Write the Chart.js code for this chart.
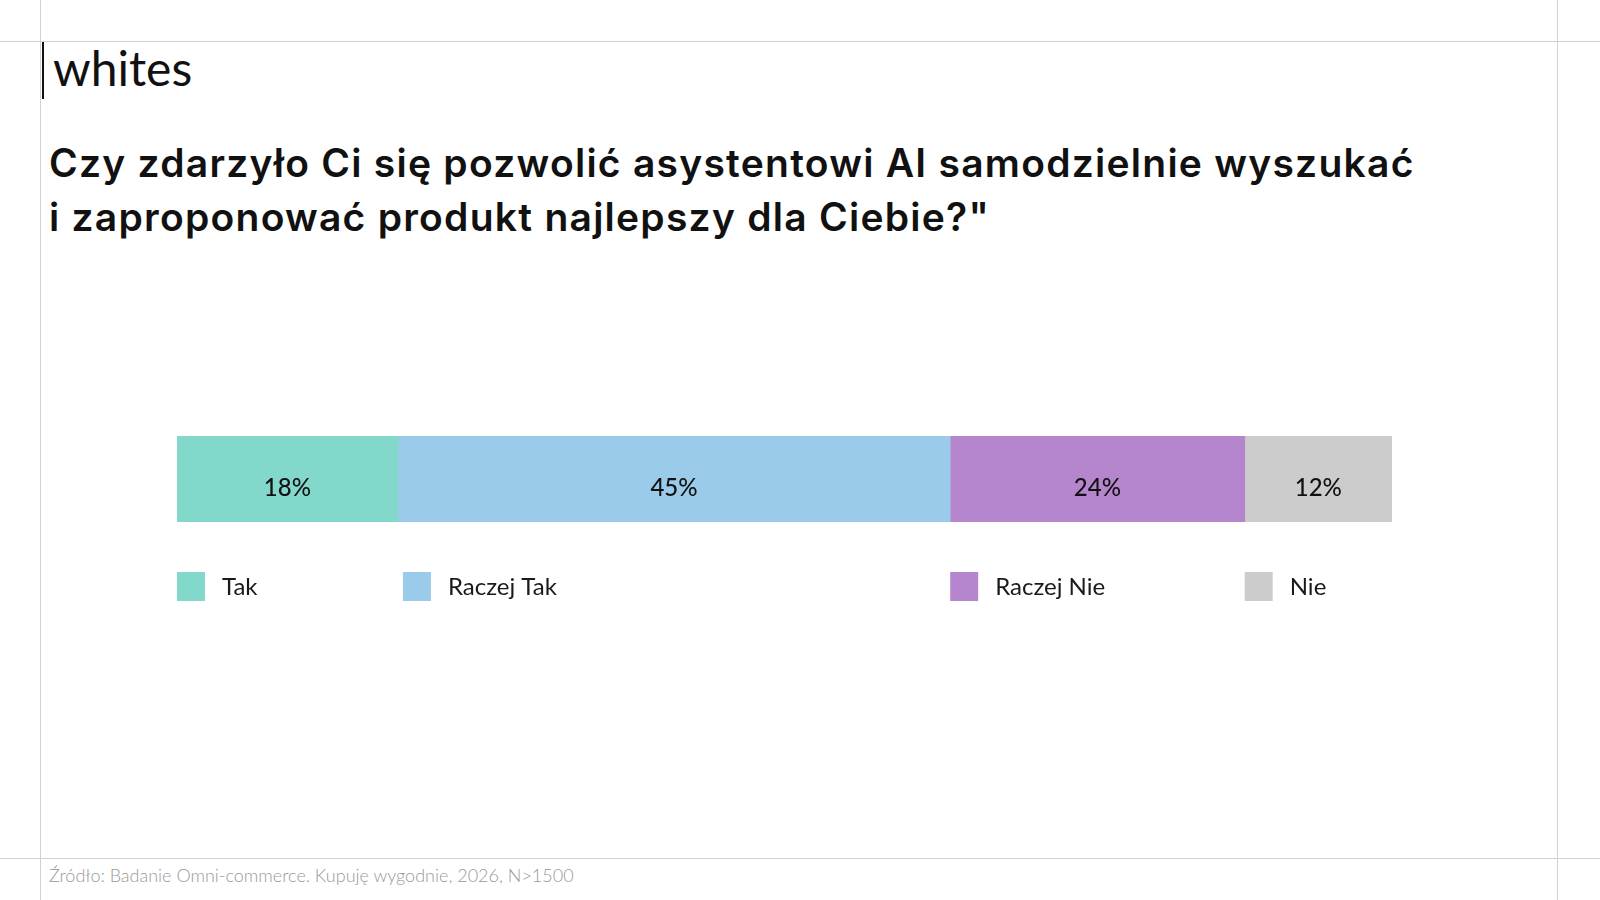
<!DOCTYPE html>
<html>
<head>
<meta charset="utf-8">
<script src="https://cdn.jsdelivr.net/npm/chart.js@4"></script>
<style>
  body { margin: 0; width: 1600px; height: 900px; background: #fff; position: relative; overflow: hidden; font-family: Lato, sans-serif; }
  .vline { position: absolute; top: 0; width: 1px; height: 900px; background: #d2d2d2; }
  .hline { position: absolute; left: 0; height: 1px; width: 1600px; background: #d2d2d2; }
  #logoBar { position: absolute; left: 42px; top: 42px; width: 2px; height: 57px; background: #111; }
  #logo { position: absolute; left: 53px; top: 38px; font-size: 48px; font-weight: 400; color: #111; line-height: 60px; }
  #title { position: absolute; left: 49px; top: 136px; font-family: Inter, sans-serif; font-size: 39px; font-weight: 600; line-height: 54px; color: #111; white-space: nowrap; letter-spacing: 1.25px; }
  #source { position: absolute; left: 49px; top: 864px; font-size: 18px; font-weight: 300; color: #999; line-height: 22px; }
  #chartBox { position: absolute; left: 0; top: 420px; width: 1600px; height: 200px; }
</style>
</head>
<body>
<div class="vline" style="left:40px"></div>
<div class="vline" style="left:1557px"></div>
<div class="hline" style="top:41px"></div>
<div class="hline" style="top:858px"></div>
<div id="logoBar"></div>
<div id="logo">whites</div>
<div id="title">Czy zdarzyło Ci się pozwolić asystentowi AI samodzielnie wyszukać<br>i zaproponować produkt najlepszy dla Ciebie?"</div>
<div id="source">Źródło: Badanie Omni-commerce. Kupuję wygodnie, 2026, N&gt;1500</div>
<div id="chartBox"><canvas id="myChart"></canvas></div>

<script>
const categories = ['Odpowiedzi']
const seriesLabels = ['Tak', 'Raczej Tak', 'Raczej Nie', 'Nie']
const seriesValues = [18, 45, 24, 12]
const seriesColors = ['#82d9cb', '#9bcbea', '#b586ce', '#cccccc']

const total = seriesValues.reduce((a, b) => a + b, 0)

// labels inside segments
const barLabels = {
  id: 'barLabels',
  afterDatasetsDraw(chart) {
    const c = chart.ctx
    c.save()
    c.font = '500 24px Lato'
    c.fillStyle = '#111'
    c.textAlign = 'center'
    c.textBaseline = 'middle'
    chart.data.datasets.forEach((ds, i) => {
      chart.getDatasetMeta(i).data.forEach((bar, j) => {
        const p = bar.getProps(['x', 'y', 'base'], true)
        c.fillText(ds.data[j] + '%', (p.x + p.base) / 2, p.y + 9)
      })
    })
    c.restore()
  }
}

// legend under each segment start
const segLegend = {
  id: 'segLegend',
  afterDraw(chart) {
    const c = chart.ctx
    const top = chart.chartArea.bottom + 50
    c.save()
    c.font = '400 24px Lato'
    c.textBaseline = 'middle'
    chart.data.datasets.forEach((ds, i) => {
      const bar = chart.getDatasetMeta(i).data[0]
      const left = Math.min(bar.x, bar.base) + (i == 1 ? 5 : 0)
      c.fillStyle = ds.backgroundColor
      c.fillRect(left, top, 28, 29)
      c.fillStyle = '#1a1a1a'
      c.fillText(ds.label, left + 45, top + 15)
    })
    c.restore()
  }
}

const ctx = document.getElementById('myChart')

new Chart(ctx, {
  type: 'bar',
  data: {
    labels: categories,
    datasets: seriesLabels.map((label, i) => ({
      label: label,
      data: [seriesValues[i]],
      backgroundColor: seriesColors[i],
      borderWidth: 0,
      barPercentage: 1,
      categoryPercentage: 1
    }))
  },
  options: {
    indexAxis: 'y',
    responsive: true,
    maintainAspectRatio: false,
    animation: false,
    layout: { padding: { left: 177, right: 208, top: 16, bottom: 98 } },
    plugins: {
      legend: { display: false },
      tooltip: { enabled: false }
    },
    scales: {
      x: { stacked: true, min: 0, max: total, display: false },
      y: { stacked: true, display: false }
    }
  },
  plugins: [barLabels, segLegend]
})
</script>
</body>
</html>
